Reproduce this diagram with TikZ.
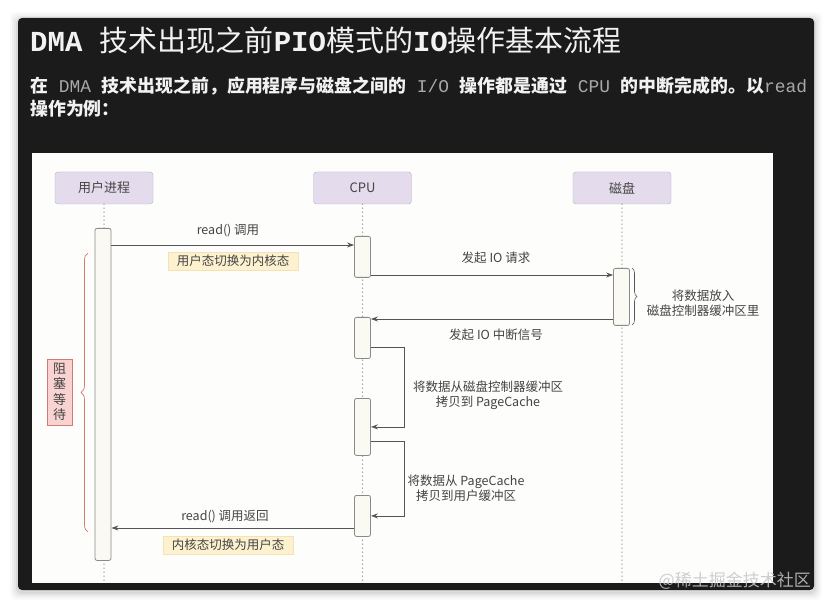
\documentclass[tikz,border=0pt]{standalone}
\usepackage{fontspec}
\usetikzlibrary{arrows.meta,decorations.pathreplacing}
\setmainfont{Noto Sans CJK SC}
\newfontfamily\cjk{Noto Sans CJK SC}
\newfontfamily\monof{Liberation Mono}
\definecolor{panel}{HTML}{1B1B1B}
\definecolor{hdrfill}{HTML}{E4DCEC}
\definecolor{hdrdraw}{HTML}{B8AEC2}
\definecolor{actfill}{HTML}{FAFAF2}
\definecolor{actdraw}{HTML}{8A8A8A}
\definecolor{linec}{HTML}{555555}
\definecolor{txt}{HTML}{444444}
\definecolor{notefill}{HTML}{FDF1CF}
\definecolor{notedraw}{HTML}{F1E3B4}
\definecolor{redfill}{HTML}{F8D3D1}
\definecolor{reddraw}{HTML}{D27A74}
\definecolor{monogray}{HTML}{A8A8A8}
\definecolor{areafill}{HTML}{FDFDFC}
\tikzset{
  hdr/.style={draw=hdrdraw, fill=hdrfill, rounded corners=3pt, minimum width=98pt, minimum height=32pt, inner sep=0pt, font=\cjk\fontsize{13}{13}\selectfont, text=txt},
  act/.style={draw=actdraw, fill=actfill, rounded corners=2pt, minimum width=16pt, inner sep=0pt, line width=0.8pt},
  life/.style={draw=gray!80, line width=1.5pt, line cap=round, dash pattern=on 0pt off 4pt},
  msg/.style={draw=linec, line width=0.8pt, -{Stealth[length=7pt,width=5pt]}},
  lbl/.style={font=\cjk\fontsize{12.5}{15}\selectfont, text=txt, align=center, inner sep=0pt},
  note/.style={fill=notefill, draw=notedraw, font=\cjk\fontsize{12.5}{14}\selectfont, text=txt, minimum width=130pt, minimum height=18pt, inner sep=0pt}
}
\begin{document}
\begin{tikzpicture}[x=1pt,y=-1pt]
\useasboundingbox (0,0) rectangle (832,609);
\fill[white] (0,0) rectangle (832,609);
% shadow
\foreach \e/\o in {8/0.02,6/0.03,4/0.04,2/0.06}{
  \fill[black, opacity=\o, rounded corners=6pt] (18-\e,18-\e+2) rectangle (814+\e,590+\e+2);
}
\fill[panel, rounded corners=4pt] (18,18) rectangle (814,590);
% title
\node[anchor=base west, inner sep=0pt, text=white!95!black] (title) at (30,52)
  {\fontsize{29}{31}\selectfont{\monof\bfseries DMA\ }\cjk 技术出现之前{\monof\bfseries PIO}模式的{\monof\bfseries IO}操作基本流程};
% paragraph
\node[anchor=base west, inner sep=0pt, text=white!95!black] (para1) at (30,93)
  {\fontsize{17.9}{20}\selectfont\cjk\bfseries 在{\monof\mdseries\color{monogray}\ DMA\ }技术出现之前，应用程序与磁盘之间的{\monof\mdseries\color{monogray}\ I/O\ }操作都是通过{\monof\mdseries\color{monogray}\ CPU\ }的中断完成的。以{\monof\mdseries\color{monogray}read}};
\node[anchor=base west, inner sep=0pt, text=white!95!black] (para2) at (30,116)
  {\fontsize{17.9}{20}\selectfont\cjk\bfseries 操作为例：};
% diagram area
\fill[areafill] (32,153) rectangle (773,583);
% headers
\node[hdr] (hu) at (104,188) {用户进程};
\node[hdr] (hc) at (362.5,188) {CPU};
\node[hdr] (hd) at (622,188) {磁盘};
% lifelines
\draw[life] (hu.south) -- (hu.south |- 0,583);
\draw[life] (hc.south) -- (hc.south |- 0,583);
\draw[life] (hd.south) -- (hd.south |- 0,583);
% activations
\node[act, minimum height=332pt, anchor=north] (ua) at (103,228) {};
\node[act, minimum height=41pt, anchor=north] (c1) at (362.5,236) {};
\node[act, minimum height=57pt, anchor=north] (d1) at (621.5,268) {};
\node[act, minimum height=41pt, anchor=north] (c2) at (362.5,317) {};
\node[act, minimum height=57pt, anchor=north] (c3) at (362.5,398) {};
\node[act, minimum height=41pt, anchor=north] (c4) at (362.5,495) {};
% y levels
\coordinate (y1) at (0,245);
\coordinate (y2) at (0,275);
\coordinate (y3) at (0,319);
\coordinate (y4) at (0,347);
\coordinate (y5) at (0,441);
\coordinate (y6) at (0,528);
% messages
\draw[msg] (ua.east |- y1) -- (c1.west |- y1);
\draw[msg] (c1.east |- y2) -- (d1.west |- y2);
\draw[msg] (d1.west |- y3) -- (c2.east |- y3);
\draw[msg] (c2.east |- y4) -- ++(33,0) |- (c3.east);
\draw[msg] (c3.east |- y5) -- ++(33,0) |- (c4.east);
\draw[msg] (c4.west |- y6) -- (ua.east |- y6);
% labels
\node[lbl] (l1) at (228,231) {read() 调用};
\node[note] (n1) at (233,261) {用户态切换为内核态};
\node[lbl] (l2) at (496,258) {发起 IO 请求};
\node[lbl] (l3) at (496,335) {发起 IO 中断信号};
\node[lbl] (l4) at (488,395) {将数据从磁盘控制器缓冲区\\拷贝到 PageCache};
\node[lbl] (l5) at (466,488) {将数据从 PageCache\\拷贝到用户缓冲区};
\node[lbl] (l6) at (225,517) {read() 调用返回};
\node[note] (n2) at (228,545) {内核态切换为用户态};
\node[lbl] (l7) at (703,303) {将数据放入\\磁盘控制器缓冲区里};
% braces
\draw[linec, line width=0.6pt, decorate, decoration={brace, amplitude=5pt}] (632,268) -- (632,325);
\draw[reddraw, line width=0.7pt, decorate, decoration={brace, amplitude=7pt}] (88,532) -- (88,253);
\node[fill=redfill, draw=reddraw, minimum width=25pt, minimum height=66pt, inner sep=0pt, align=center, font=\cjk\fontsize{13}{15.5}\selectfont, text=txt] (wait) at (59.5,392) {阻\\塞\\等\\待};
% watermark
\node[anchor=base east, inner sep=0pt, text=gray!45, opacity=0.85, font=\cjk\fontsize{17}{17}\selectfont] (wm) at (811,586) {@稀土掘金技术社区};
\end{tikzpicture}
\end{document}
